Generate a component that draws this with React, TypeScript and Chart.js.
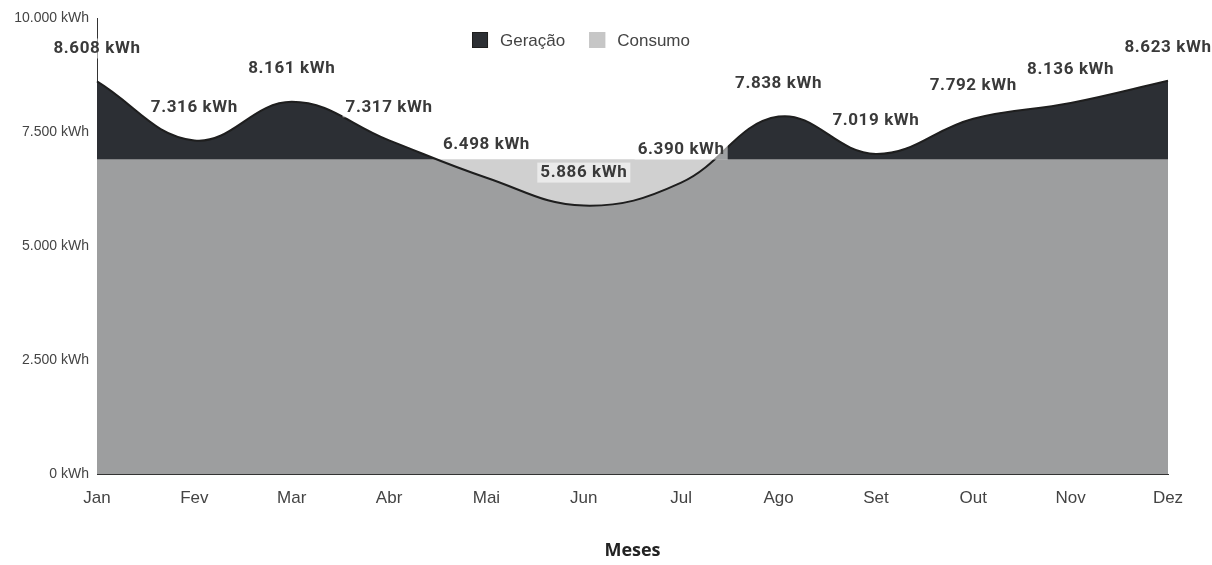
import React, { useEffect, useRef } from 'react';
import { Chart, registerables } from 'chart.js';

Chart.register(...registerables);

const months = ['Jan', 'Fev', 'Mar', 'Abr', 'Mai', 'Jun', 'Jul', 'Ago', 'Set', 'Out', 'Nov', 'Dez'];
const generation = [8608, 7316, 8161, 7317, 6498, 5886, 6390, 7838, 7019, 7792, 8136, 8623];
const consumption = [6900, 6900, 6900, 6900, 6900, 6900, 6900, 6900, 6900, 6900, 6900, 6900];
const yTickValues = [0, 2500, 5000, 7500, 10000];

const fmt = (v: number) => {
  const s = Math.round(v).toString().replace(/\B(?=(\d{3})+(?!\d))/g, '.');
  return s + ' kWh';
};

const valueLabels = {
  id: 'valueLabels',
  afterDatasetsDraw(chart: any) {
    const ctx = chart.ctx;
    const meta = chart.getDatasetMeta(0);
    ctx.save();
    ctx.font = 'bold 17px Roboto, "Liberation Sans", sans-serif';
    try { (ctx as any).letterSpacing = '0.6px'; } catch (e) {}
    ctx.textAlign = 'center';
    ctx.textBaseline = 'middle';
    meta.data.forEach((pt: any, i: number) => {
      const text = fmt(generation[i]);
      const x = pt.x;
      const y = pt.y - 33;
      const w = ctx.measureText(text).width;
      ctx.fillStyle = 'rgba(255,255,255,0.55)';
      ctx.fillRect(x - w / 2 - 3, y - 10, w + 6, 20);
      ctx.fillStyle = '#3a3a3a';
      ctx.fillText(text, x, y);
    });
    ctx.restore();
  },
};

const inlineLegend = {
  id: 'inlineLegend',
  afterDraw(chart: any) {
    const ctx = chart.ctx;
    const ds = chart.data.datasets;
    ctx.save();
    ctx.font = '17px "Liberation Sans", Arial, sans-serif';
    ctx.textBaseline = 'middle';
    ctx.textAlign = 'left';
    const cy = 40;
    const box = 16;
    const gap = 12;
    const itemGap = 24;
    const widths = ds.map((d: any) => box + gap + ctx.measureText(d.label).width);
    const total = widths.reduce((a: number, b: number) => a + b, 0) + itemGap * (ds.length - 1);
    let x = 581 - total / 2;
    ds.forEach((d: any, i: number) => {
      ctx.fillStyle = i === 1 ? '#c6c6c6' : d.backgroundColor;
      ctx.fillRect(x, cy - box / 2, box, box);
      ctx.strokeStyle = i === 1 ? '#c6c6c6' : d.borderColor;
      ctx.lineWidth = 1;
      ctx.strokeRect(x + 0.5, cy - box / 2 + 0.5, box - 1, box - 1);
      ctx.fillStyle = '#444';
      ctx.fillText(d.label, x + box + gap, cy + 1);
      x += widths[i] + itemGap;
    });
    ctx.restore();
  },
};

export default function App() {
  const ref = useRef<HTMLCanvasElement | null>(null);
  useEffect(() => {
    document.body.style.margin = '0';
    if (!ref.current) return;
    const chart = new Chart(ref.current, {
      type: 'line',
      data: {
        labels: months,
        datasets: [
          {
            label: 'Geração',
            data: generation,
            order: 1,
            fill: 'origin',
            backgroundColor: '#2c2f34',
            borderColor: '#1e1e1e',
            borderWidth: 2,
            tension: 0.4,
            pointRadius: 0,
          },
          {
            label: 'Consumo',
            data: consumption,
            order: 0,
            fill: 'origin',
            backgroundColor: 'rgba(193,193,193,0.76)',
            borderColor: 'rgba(193,193,193,0.76)',
            borderWidth: 0,
            tension: 0.4,
            pointRadius: 0,
          },
        ],
      },
      options: {
        animation: false,
        responsive: true,
        maintainAspectRatio: false,
        layout: { padding: { top: 18, right: 44, left: 0, bottom: 0 } },
        plugins: {
          filler: { drawTime: 'beforeDatasetsDraw' } as any,
          tooltip: { enabled: false },
          legend: { display: false },
        },
        scales: {
          x: {
            grid: { display: false },
            border: { display: true, color: '#333', width: 1 },
            ticks: {
              color: '#444',
              padding: 6,
              font: { family: '"Liberation Sans", Arial, sans-serif', size: 17 },
              maxRotation: 0,
            },
            title: {
              display: true,
              text: 'Meses',
              color: '#222',
              font: { family: '"Open Sans", sans-serif', size: 18, weight: 'bold' },
              padding: { top: 0, bottom: 3 },
            },
            afterFit: (s: any) => {
              s.height = 91;
            },
          },
          y: {
            min: 0,
            max: 10000,
            grid: { display: false },
            border: { display: true, color: '#333', width: 1 },
            afterBuildTicks: (s: any) => {
              s.ticks = yTickValues.map((v) => ({ value: v }));
            },
            ticks: {
              color: '#444',
              padding: 0,
              font: { family: '"Liberation Sans", Arial, sans-serif', size: 14 },
              callback: (v: any) => fmt(Number(v)),
            },
            afterFit: (s: any) => {
              s.width = 97;
            },
          },
        },
      },
      plugins: [valueLabels, inlineLegend],
    });
    return () => chart.destroy();
  }, []);
  return (
    <div style={{ width: 1212, height: 565, position: 'relative' }}>
      <canvas ref={ref} />
    </div>
  );
}
